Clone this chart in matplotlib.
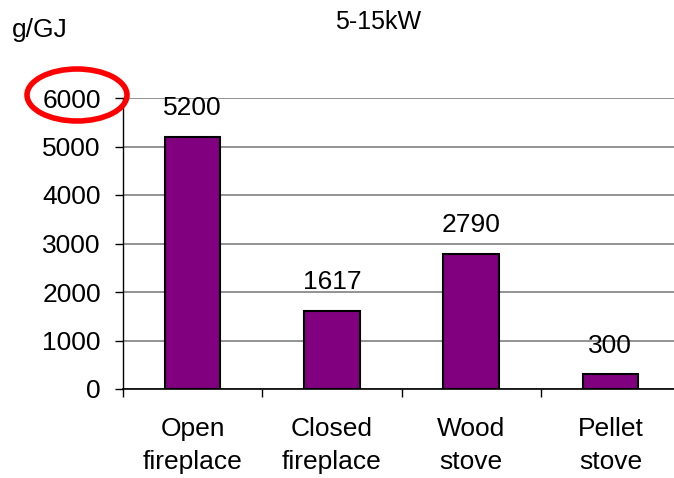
import matplotlib
matplotlib.use('Agg')
from matplotlib import pyplot as plt
from matplotlib.patches import Ellipse

categories = ['Open\nfireplace', 'Closed\nfireplace', 'Wood\nstove', 'Pellet\nstove']
values = [5200, 1617, 2790, 300]
yticks = [0, 1000, 2000, 3000, 4000, 5000, 6000]

plt.rcParams['font.family'] = ['Liberation Sans', 'DejaVu Sans']

W, H = 674, 478
fig = plt.figure(figsize=(W / 100, H / 100), dpi=100)
fig.patch.set_facecolor('white')

# axes box in pixels: left 123, right ~680 (runs past the edge), y 98..389
left, right, top, bottom = 123, 680, 98, 389
ax = fig.add_axes([left / W, 1 - bottom / H, (right - left) / W, (bottom - top) / H])
ax.set_facecolor('none')

x = range(len(values))
ax.bar(x, values, width=0.4, color='#800080', edgecolor='black', linewidth=1.5, zorder=3)
for xi, v in zip(x, values):
    ax.annotate(str(v), (xi, v), xytext=(0, 12), textcoords='offset points',
                ha='center', va='bottom', fontsize=19)

ax.set_xlim(-0.5, 3.5)
ax.set_ylim(0, 6000)
ax.set_yticks(yticks)
ax.set_yticklabels([str(t) for t in yticks], fontsize=19)
ax.yaxis.grid(True, color='#808080', linewidth=1.2, zorder=0)
ax.tick_params(axis='y', length=6, width=1, color='black', pad=10)

ax.set_xticks([-0.5, 0.5, 1.5, 2.5, 3.5])
ax.set_xticklabels([])
ax.tick_params(axis='x', which='major', length=6, width=1, direction='out')
ax.set_xticks(list(x), minor=True)
ax.set_xticklabels(categories, minor=True, fontsize=19, linespacing=1.5)
ax.tick_params(axis='x', which='minor', length=0, pad=20)

for s in ['top', 'right']:
    ax.spines[s].set_visible(False)
ax.spines['left'].set_linewidth(1)
ax.spines['bottom'].set_linewidth(1.2)

fig.text(12 / W, 1 - 30 / H, 'g/GJ', fontsize=19, va='center', ha='left')
fig.text(378 / W, 1 - 22 / H, '5-15kW', fontsize=18, va='center', ha='center')

# red ellipse around the 6000 label
ell = Ellipse((77 / W, 1 - 95 / H), 100 / W, 52 / H, transform=fig.transFigure,
              fill=False, edgecolor='#ff0000', linewidth=4, clip_on=False)
fig.add_artist(ell)

fig.savefig('out.png', dpi=100)
